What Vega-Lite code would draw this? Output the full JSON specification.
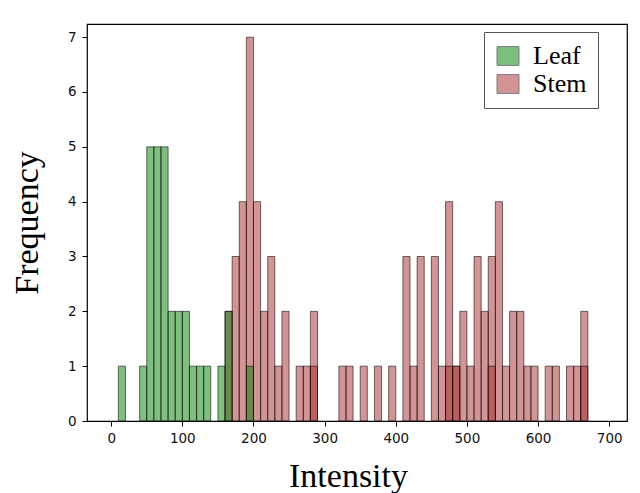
{
  "$schema": "https://vega.github.io/schema/vega-lite/v6.json",
  "width": 540,
  "height": 397,
  "autosize": {"type": "none"},
  "padding": {"left": 87, "top": 24, "right": 13, "bottom": 72},
  "background": "white",
  "config": {
    "view": {"stroke": "black", "strokeWidth": 1.2},
    "axis": {
      "domain": false,
      "grid": false,
      "ticks": true,
      "tickColor": "black",
      "tickSize": 5,
      "tickWidth": 1,
      "labelFont": "DejaVu Sans",
      "labelFontSize": 13.5,
      "labelColor": "#111",
      "labelPadding": 5,
      "titleFont": "Liberation Serif",
      "titleFontSize": 34,
      "titleFontWeight": "normal",
      "titleColor": "black"
    }
  },
  "data": {
    "values": [
      {"series": "Stem", "sample": "A", "bin_start": 160, "bin_end": 170, "count": 2},
      {"series": "Stem", "sample": "A", "bin_start": 170, "bin_end": 180, "count": 3},
      {"series": "Stem", "sample": "A", "bin_start": 180, "bin_end": 190, "count": 4},
      {"series": "Stem", "sample": "A", "bin_start": 190, "bin_end": 200, "count": 7},
      {"series": "Stem", "sample": "A", "bin_start": 200, "bin_end": 210, "count": 4},
      {"series": "Stem", "sample": "A", "bin_start": 210, "bin_end": 220, "count": 2},
      {"series": "Stem", "sample": "A", "bin_start": 220, "bin_end": 230, "count": 3},
      {"series": "Stem", "sample": "A", "bin_start": 230, "bin_end": 240, "count": 1},
      {"series": "Stem", "sample": "A", "bin_start": 240, "bin_end": 250, "count": 2},
      {"series": "Stem", "sample": "A", "bin_start": 260, "bin_end": 270, "count": 1},
      {"series": "Stem", "sample": "A", "bin_start": 270, "bin_end": 280, "count": 1},
      {"series": "Stem", "sample": "A", "bin_start": 280, "bin_end": 290, "count": 2},
      {"series": "Stem", "sample": "A", "bin_start": 320, "bin_end": 330, "count": 1},
      {"series": "Stem", "sample": "A", "bin_start": 330, "bin_end": 340, "count": 1},
      {"series": "Stem", "sample": "A", "bin_start": 350, "bin_end": 360, "count": 1},
      {"series": "Stem", "sample": "A", "bin_start": 370, "bin_end": 380, "count": 1},
      {"series": "Stem", "sample": "A", "bin_start": 390, "bin_end": 400, "count": 1},
      {"series": "Stem", "sample": "A", "bin_start": 410, "bin_end": 420, "count": 3},
      {"series": "Stem", "sample": "A", "bin_start": 420, "bin_end": 430, "count": 1},
      {"series": "Stem", "sample": "A", "bin_start": 430, "bin_end": 440, "count": 3},
      {"series": "Stem", "sample": "A", "bin_start": 450, "bin_end": 460, "count": 3},
      {"series": "Stem", "sample": "A", "bin_start": 460, "bin_end": 470, "count": 1},
      {"series": "Stem", "sample": "A", "bin_start": 470, "bin_end": 480, "count": 4},
      {"series": "Stem", "sample": "A", "bin_start": 480, "bin_end": 490, "count": 1},
      {"series": "Stem", "sample": "A", "bin_start": 490, "bin_end": 500, "count": 2},
      {"series": "Stem", "sample": "A", "bin_start": 500, "bin_end": 510, "count": 1},
      {"series": "Stem", "sample": "A", "bin_start": 510, "bin_end": 520, "count": 3},
      {"series": "Stem", "sample": "A", "bin_start": 520, "bin_end": 530, "count": 2},
      {"series": "Stem", "sample": "A", "bin_start": 530, "bin_end": 540, "count": 3},
      {"series": "Stem", "sample": "A", "bin_start": 540, "bin_end": 550, "count": 4},
      {"series": "Stem", "sample": "A", "bin_start": 550, "bin_end": 560, "count": 1},
      {"series": "Stem", "sample": "A", "bin_start": 560, "bin_end": 570, "count": 2},
      {"series": "Stem", "sample": "A", "bin_start": 570, "bin_end": 580, "count": 2},
      {"series": "Stem", "sample": "A", "bin_start": 580, "bin_end": 590, "count": 1},
      {"series": "Stem", "sample": "A", "bin_start": 590, "bin_end": 600, "count": 1},
      {"series": "Stem", "sample": "A", "bin_start": 610, "bin_end": 620, "count": 1},
      {"series": "Stem", "sample": "A", "bin_start": 620, "bin_end": 630, "count": 1},
      {"series": "Stem", "sample": "A", "bin_start": 640, "bin_end": 650, "count": 1},
      {"series": "Stem", "sample": "A", "bin_start": 650, "bin_end": 660, "count": 1},
      {"series": "Stem", "sample": "A", "bin_start": 660, "bin_end": 670, "count": 2},
      {"series": "Stem", "sample": "B", "bin_start": 280, "bin_end": 290, "count": 1},
      {"series": "Stem", "sample": "B", "bin_start": 470, "bin_end": 480, "count": 1},
      {"series": "Stem", "sample": "B", "bin_start": 480, "bin_end": 490, "count": 1},
      {"series": "Stem", "sample": "B", "bin_start": 530, "bin_end": 540, "count": 1},
      {"series": "Stem", "sample": "B", "bin_start": 660, "bin_end": 670, "count": 1},
      {"series": "Leaf", "sample": "A", "bin_start": 10, "bin_end": 20, "count": 1},
      {"series": "Leaf", "sample": "A", "bin_start": 40, "bin_end": 50, "count": 1},
      {"series": "Leaf", "sample": "A", "bin_start": 50, "bin_end": 60, "count": 5},
      {"series": "Leaf", "sample": "A", "bin_start": 60, "bin_end": 70, "count": 5},
      {"series": "Leaf", "sample": "A", "bin_start": 70, "bin_end": 80, "count": 5},
      {"series": "Leaf", "sample": "A", "bin_start": 80, "bin_end": 90, "count": 2},
      {"series": "Leaf", "sample": "A", "bin_start": 90, "bin_end": 100, "count": 2},
      {"series": "Leaf", "sample": "A", "bin_start": 100, "bin_end": 110, "count": 2},
      {"series": "Leaf", "sample": "A", "bin_start": 110, "bin_end": 120, "count": 1},
      {"series": "Leaf", "sample": "A", "bin_start": 120, "bin_end": 130, "count": 1},
      {"series": "Leaf", "sample": "A", "bin_start": 130, "bin_end": 140, "count": 1},
      {"series": "Leaf", "sample": "A", "bin_start": 150, "bin_end": 160, "count": 1},
      {"series": "Leaf", "sample": "A", "bin_start": 160, "bin_end": 170, "count": 2},
      {"series": "Leaf", "sample": "A", "bin_start": 190, "bin_end": 200, "count": 1}
    ]
  },
  "encoding": {
    "x": {
      "field": "bin_start",
      "type": "quantitative",
      "scale": {"domain": [-34, 725], "nice": false, "zero": false},
      "axis": {
        "values": [0, 100, 200, 300, 400, 500, 600, 700],
        "title": "Intensity",
        "titleX": 261,
        "titleY": 65,
        "titleBaseline": "alphabetic",
        "titleAlign": "center"
      }
    },
    "x2": {"field": "bin_end"},
    "y": {
      "field": "count",
      "type": "quantitative",
      "scale": {"domain": [0, 7.24], "nice": false},
      "axis": {
        "values": [0, 1, 2, 3, 4, 5, 6, 7],
        "title": "Frequency",
        "titleX": -49.5,
        "titleY": 198.5,
        "titleAngle": -90,
        "titleBaseline": "alphabetic",
        "titleAlign": "center",
        "labelPadding": 6
      }
    },
    "y2": {"datum": 0},
    "color": {
      "field": "series",
      "type": "nominal",
      "scale": {"domain": ["Leaf", "Stem"], "range": ["#008000", "#a52a2a"]},
      "legend": {
        "orient": "none",
        "legendX": 397,
        "legendY": 8,
        "title": null,
        "fillColor": "white",
        "strokeColor": "#555",
        "padding": 11,
        "cornerRadius": 0,
        "symbolType": "M-1,-0.86H1V0.86H-1Z",
        "symbolSize": 484,
        "symbolOpacity": 0.5,
        "symbolStrokeColor": "black",
        "symbolStrokeWidth": 1,
        "labelFont": "Liberation Serif",
        "labelFontSize": 26,
        "labelColor": "black",
        "labelOffset": 12,
        "rowPadding": 2
      }
    }
  },
  "layer": [
    {
      "transform": [{"filter": "datum.series === 'Stem'"}],
      "mark": {"type": "bar", "fillOpacity": 0.5, "stroke": "black", "strokeOpacity": 0.55, "strokeWidth": 1}
    },
    {
      "transform": [{"filter": "datum.series === 'Leaf'"}],
      "mark": {"type": "bar", "fillOpacity": 0.5, "stroke": "black", "strokeOpacity": 0.55, "strokeWidth": 1}
    }
  ]
}
